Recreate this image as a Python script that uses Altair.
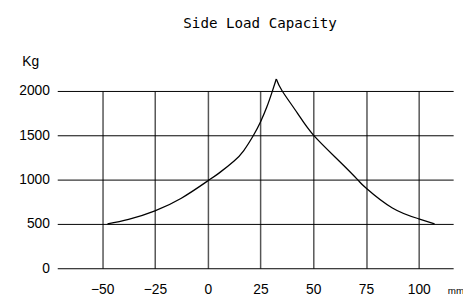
import altair as alt
import pandas as pd

# Curve: rising branch, then falling branch (shared peak)
left_mm = [-47.5, -37.5, -25, -12.5, 0, 6.25, 12.5, 17, 21.7, 25, 28, 30.6, 32.5]
left_kg = [500, 550, 648, 790, 985, 1090, 1210, 1325, 1500, 1650, 1818, 1995, 2135]
right_mm = [32.5, 35.3, 42.5, 50, 62.5, 71, 75, 87.5, 100, 107.5]
right_kg = [2135, 2000, 1750, 1505, 1205, 1000, 905, 680, 558, 500]

x_ticks = [-50, -25, 0, 25, 50, 75, 100]
y_ticks = [0, 500, 1000, 1500, 2000]

df = pd.concat([
    pd.DataFrame({"mm": left_mm, "kg": left_kg, "branch": "rise"}),
    pd.DataFrame({"mm": right_mm, "kg": right_kg, "branch": "fall"}),
])

chart = alt.Chart(df).mark_line(
    color="black", strokeWidth=1.3, interpolate="natural"
).encode(
    x=alt.X("mm:Q",
            scale=alt.Scale(domain=[-71.3, 116.3], nice=False, zero=False),
            axis=alt.Axis(values=x_ticks, format="d", grid=True, gridColor="#555", gridWidth=1.5,
                          domain=False, ticks=False, labelPadding=15,
                          labelFont="Liberation Sans", labelFontSize=14, labelColor="black",
                          title="mm", titleFont="Liberation Sans", titleFontSize=10,
                          titleFontWeight="normal", titleAngle=0, titleAlign="left",
                          titleBaseline="middle", titleX=396, titleY=23, titleColor="black")),
    y=alt.Y("kg:Q",
            scale=alt.Scale(domain=[0, 2000], nice=False),
            axis=alt.Axis(values=y_ticks, format="d", grid=True, gridColor="black", gridWidth=1,
                          domain=False, ticks=False, labelPadding=8,
                          labelFont="Liberation Sans", labelFontSize=14, labelColor="black",
                          title="Kg", titleFont="Liberation Sans", titleFontSize=14,
                          titleFontWeight="normal", titleAngle=0, titleAlign="left",
                          titleBaseline="middle", titleX=-36, titleY=-30, titleColor="black")),
    detail="branch:N",
).properties(
    width=402,
    height=180,
    autosize="none",
    padding={"left": 50, "top": 82, "right": 10, "bottom": 30},
    title=alt.TitleParams("Side Load Capacity", font="DejaVu Sans Mono", fontSize=14.4,
                          fontWeight="normal", anchor="middle", frame="group",
                          offset=24, dx=5, color="black"),
).configure_view(stroke=None)

chart.save("out.html", embed_options={"renderer": "svg", "actions": False})
